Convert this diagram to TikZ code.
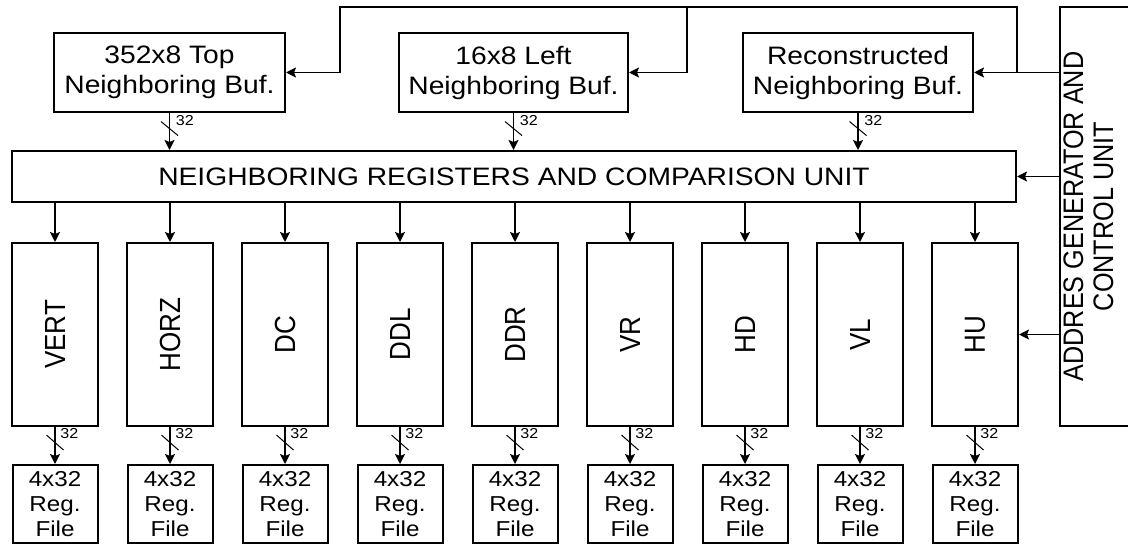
\documentclass[tikz,border=0pt]{standalone}
\usepackage{fontspec}
\setmainfont{Liberation Sans}[FakeStretch=1.12]
\newfontfamily\rotfont{Liberation Sans}
\usetikzlibrary{arrows.meta,calc}
\newcommand{\vstretch}[1]{\scalebox{1}[1.12]{#1}}
\begin{document}
\begin{tikzpicture}[x=0.5pt,y=-0.5pt,
  box/.style={draw, line width=1pt, inner sep=0pt, align=center, font=\fontsize{12.6}{15}\selectfont},
  regbox/.style={draw, line width=1pt, inner sep=0pt, align=center, minimum width=42.5pt, minimum height=39pt, font=\fontsize{10.8}{12.5}\selectfont},
  colbox/.style={draw, line width=1pt, inner sep=0pt, minimum width=43pt, minimum height=91.5pt},
  coltext/.style={rotate=90, inner sep=0pt, font=\rotfont\fontsize{13}{15}\selectfont},
  arr/.style={line width=0.8pt, -{Stealth[length=5pt,width=5pt,inset=1pt]}},
  slashline/.style={line width=0.5pt},
  lbl/.style={inner sep=0pt, font=\fontsize{7.2}{8}\selectfont}
]
\useasboundingbox (0,0) rectangle (1128,545);

% top buffers
\node[box, minimum width=115.5pt, minimum height=39.5pt] (topbuf) at (169.5,72.5) {352x8 Top\\Neighboring Buf.};
\node[box, minimum width=114.5pt, minimum height=39.5pt] (leftbuf) at (513.5,72.5) {16x8 Left\\Neighboring Buf.};
\node[box, minimum width=115pt, minimum height=39.5pt] (recbuf) at (858,72.5) {Reconstructed\\Neighboring Buf.};

% comparison unit
\node[box, minimum width=502pt, minimum height=25.5pt] (nrc) at (514,176.5) {NEIGHBORING REGISTERS AND COMPARISON UNIT};

% control unit
\node[draw, line width=1pt, inner sep=0pt, minimum width=40pt, minimum height=209.5pt] (ctrl) at (1100,216.5) {};
\node[rotate=90, inner sep=0pt, font=\rotfont\fontsize{12.6}{13.4}\selectfont] (ctrltxt) at (1092,216.5)
  {\vstretch{\begin{tabular}{@{}c@{}}ADDRES GENERATOR AND\\CONTROL UNIT\end{tabular}}};

% buses from top buffers
\foreach \b in {topbuf,leftbuf,recbuf}{
  \draw[arr] (\b.south) -- coordinate[pos=0.42] (s\b) (\b.south |- nrc.north);
  \draw[slashline] ($(s\b)+(-8.5,-7)$) -- ($(s\b)+(8.5,7)$);
  \node[lbl, anchor=west] (l\b) at ($(\b.south)+(6,8)$) {32};
}

% columns
\foreach \n [count=\j from 0] in {VERT,HORZ,DC,DDL,DDR,VR,HD,VL,HU}{
  \node[colbox] (c\j) at (55+115*\j,334.5) {};
  \node[coltext] (t\j) at (c\j) {\vstretch{\n}};
  \node[regbox] (r\j) at (55+115*\j,504) {4x32\\Reg.\\File};
  \draw[arr] (c\j.north |- nrc.south) -- (c\j.north);
  \draw[arr] (c\j.south) -- coordinate[pos=0.42] (s\j) (r\j.north);
  \draw[slashline] ($(s\j)+(-8.5,-7.5)$) -- ($(s\j)+(8.5,7.5)$);
  \node[lbl, anchor=west] (l\j) at ($(c\j.south)+(5,7)$) {32};
}

% control connections
\coordinate (j1) at (340,7);
\coordinate (j2) at (687,7);
\coordinate (j3) at (1017,72.5);
\draw[arr] (ctrl.west |- recbuf.east) -- (recbuf.east);
\draw[arr] (ctrl.west |- nrc.east) -- (nrc.east);
\draw[arr] (ctrl.west |- c8.east) -- (c8.east);
\draw[arr] (j3) |- (j1) |- (topbuf.east);
\draw[arr] (j2) |- (leftbuf.east);
\end{tikzpicture}
\end{document}
